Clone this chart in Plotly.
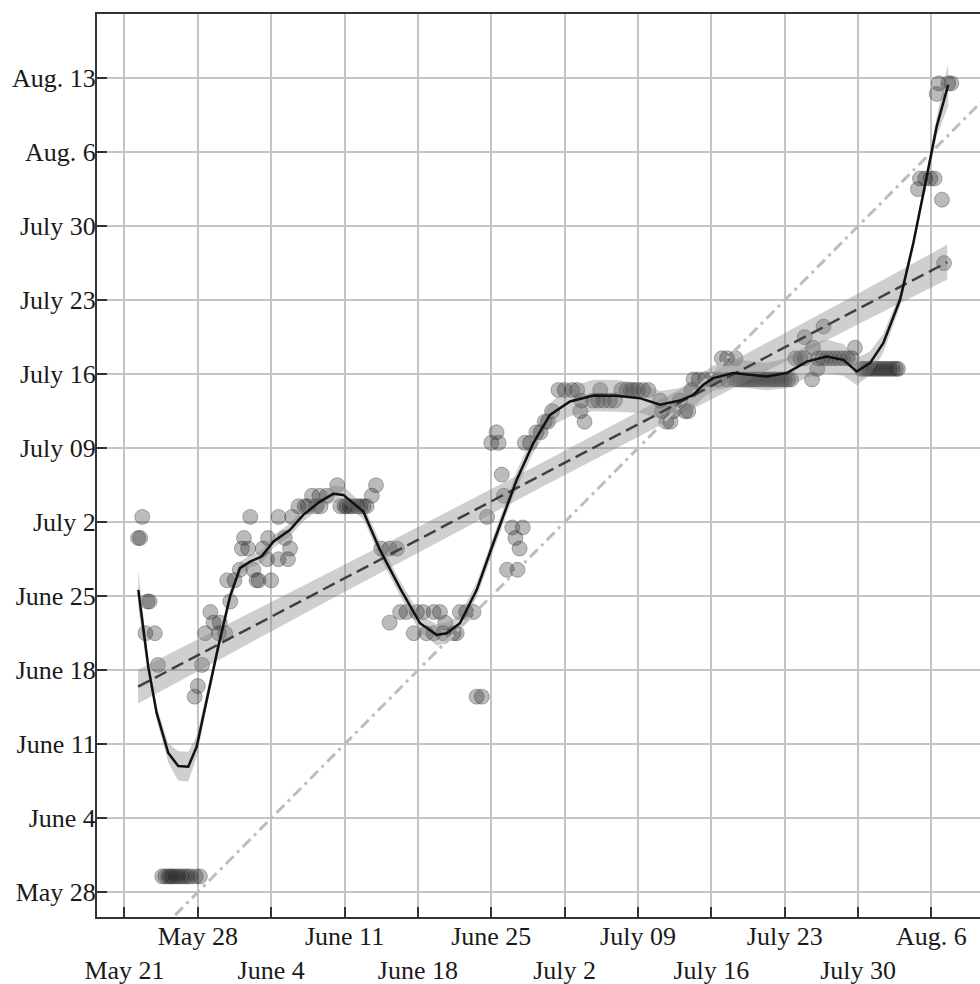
import plotly.graph_objects as go

# ---- axis ticks (days since May 21) ----
x_tick_vals = [0, 7, 14, 21, 28, 35, 42, 49, 56, 63, 70, 77]
x_tick_text = ["May 21", "May 28", "June 4", "June 11", "June 18", "June 25",
               "July 2", "July 09", "July 16", "July 23", "July 30", "Aug. 6"]
y_tick_vals = [7, 14, 21, 28, 35, 42, 49, 56, 63, 70, 77, 84]
y_tick_text = ["May 28", "June 4", "June 11", "June 18", "June 25", "July 2",
               "July 09", "July 16", "July 23", "July 30", "Aug. 6", "Aug. 13"]

# ---- observations ----
pts_x = [1.3, 1.5, 1.7, 2.2, 2.4, 2.0, 2.9, 3.2,
         3.6, 3.9, 4.2, 4.4, 4.6, 4.9, 5.1, 5.4, 5.7, 6.0, 6.3, 6.8, 7.2,
         6.7, 7.0, 7.4, 7.7, 8.2, 8.5, 9.1, 9.0, 9.6, 10.1, 9.8, 10.5, 11.0, 11.4, 12.0,
         11.2, 11.8, 12.3, 12.6, 12.8, 14.0, 13.2, 13.7, 13.6, 14.7, 15.6, 15.3, 15.8,
         14.7, 16.0, 16.6, 17.2, 17.9, 18.6, 18.3,
         17.5, 18.7, 19.3, 20.3, 20.6, 21.0, 21.2, 21.5, 21.8, 22.2, 22.5, 22.8, 23.1, 23.6, 24.0,
         24.5, 25.3, 26.0, 25.3, 26.3, 26.9, 27.9, 28.5, 29.5, 30.1, 27.6, 28.8, 29.5, 30.4,
         31.4, 31.7, 30.6, 32.0, 32.6, 33.3, 33.6, 34.1, 34.6,
         35.5, 35.0, 35.7, 36.0, 36.2, 37.0, 38.0, 37.3, 37.7, 36.5, 37.5, 38.2, 38.7, 39.3,
         39.7, 40.1, 40.4, 40.8, 41.4, 42.0, 42.7, 43.2, 43.5, 43.9, 43.6, 44.7, 45.2, 45.7,
         46.3, 46.8, 45.4, 47.4, 47.9, 48.3, 48.6, 49.0, 49.5, 50.0, 51.3, 51.7, 52.1,
         51.1, 52.4, 53.0, 53.5, 53.8, 54.1, 54.3, 54.8, 55.4, 56.0, 56.7, 57.5, 57.0, 57.5, 58.3,
         58.2, 58.5, 58.8, 59.1, 59.4, 59.7, 60.0, 60.3, 60.6, 60.9, 61.2, 61.5, 61.8, 62.1,
         62.4, 62.7, 63.0, 63.3, 63.6,
         64.0, 64.5, 64.9, 64.9, 65.7, 66.7, 65.6, 66.1,
         66.2, 66.6, 67.0, 67.4, 67.8, 68.2, 68.6, 69.0, 69.4,
         69.7,
         70.3, 70.6, 70.9, 71.2, 71.5, 71.8, 72.1, 72.4, 72.7, 73.0, 73.3, 73.6, 73.8,
         77.7, 78.6, 78.9, 77.5, 75.9, 76.4, 76.9, 77.3, 75.7, 78.0, 78.2]
pts_y = [40.5, 40.5, 42.5, 34.5, 34.5, 31.5, 31.5, 28.5,
         8.5, 8.5, 8.5, 8.5, 8.5, 8.5, 8.5, 8.5, 8.5, 8.5, 8.5, 8.5, 8.5,
         25.5, 26.5, 28.5, 31.5, 33.5, 32.5, 32.5, 31.5, 31.5, 34.5, 36.5, 36.5, 37.5, 40.5, 42.5,
         39.5, 39.5, 37.5, 36.5, 36.5, 36.5, 39.5, 40.5, 38.5, 38.5, 38.5, 40.5, 39.5,
         42.5, 42.5, 43.5, 43.5, 44.5, 44.5, 43.5,
         43.5, 43.5, 44.5, 45.5, 43.5, 43.5, 43.5, 43.5, 43.5, 43.5, 43.5, 43.5, 43.5, 44.5, 45.5,
         39.5, 39.5, 39.5, 32.5, 33.5, 33.5, 33.5, 33.5, 33.5, 33.5, 31.5, 31.5, 31.5, 31.5,
         31.5, 31.5, 32.5, 33.5, 33.5, 33.5, 25.5, 25.5, 42.5,
         50.5, 49.5, 49.5, 46.5, 44.5, 41.5, 41.5, 40.5, 39.5, 37.5, 37.5, 49.5, 49.5, 50.5,
         50.5, 51.5, 51.5, 52.5, 54.5, 54.5, 54.5, 54.5, 52.5, 51.5, 53.5, 53.5, 53.5, 53.5,
         53.5, 53.5, 54.5, 54.5, 54.5, 54.5, 54.5, 54.5, 54.5, 54.5, 52.5, 51.5, 51.5,
         53.5, 52.5, 53.5, 52.5, 52.5, 54.5, 55.5, 55.5, 55.5, 55.5, 55.5, 55.5, 57.5, 57.5, 57.5,
         55.5, 55.5, 55.5, 55.5, 55.5, 55.5, 55.5, 55.5, 55.5, 55.5, 55.5, 55.5, 55.5, 55.5,
         55.5, 55.5, 55.5, 55.5, 55.5,
         57.5, 57.5, 57.5, 59.5, 58.5, 60.5, 55.5, 56.5,
         57.5, 57.5, 57.5, 57.5, 57.5, 57.5, 57.5, 57.5, 57.5,
         58.5,
         56.5, 56.5, 56.5, 56.5, 56.5, 56.5, 56.5, 56.5, 56.5, 56.5, 56.5, 56.5, 56.5,
         83.5, 83.5, 83.5, 82.5, 74.5, 74.5, 74.5, 74.5, 73.5, 72.5, 66.5]

# ---- linear fit and its confidence band ----
lin_x = [1.3, 78.5]
lin_y = [26.45, 66.59]
lin_band_x = [1.3, 10, 20, 30, 40, 50, 60, 70, 78.5]
lin_band_lo = [24.85, 29.52, 34.87, 40.17, 45.42, 50.57, 55.67, 60.72, 64.94]
lin_band_hi = [28.05, 32.42, 37.47, 42.57, 47.72, 52.97, 58.27, 63.62, 68.24]

# ---- loess smooth and its confidence half-width ----
loess_x = [1.32, 2.27, 3.07, 4.18, 5.13, 6.09, 6.89, 7.84, 8.95, 10.07, 11.02, 11.98, 13.09,
           14.2, 15.8, 17.06, 18.65, 19.92, 20.88, 22.79, 24.38, 26.29, 28.2, 29.79, 30.74,
           32.01, 33.61, 35.19, 36.47, 37.42, 39.01, 40.6, 42.51, 44.73, 46.96, 49.18, 51.1,
           53.0, 54.27, 55.23, 56.18, 58.09, 61.28, 63.19, 65.1, 67.0, 68.59, 69.87, 71.13,
           72.4, 74.0, 75.27, 76.55, 77.5, 78.6]
loess_y = [35.6, 28.34, 23.96, 20.17, 18.94, 18.88, 20.77, 25.19, 30.23, 34.96, 37.65, 38.27,
           38.75, 40.16, 41.27, 42.69, 43.95, 44.68, 44.58, 43.0, 39.38, 35.76, 32.44, 31.34,
           31.5, 32.44, 35.6, 40.01, 43.48, 46.0, 49.47, 52.15, 53.41, 53.98, 53.95, 53.73,
           53.1, 53.5, 54.04, 54.99, 55.62, 56.1, 55.77, 56.1, 57.19, 57.67, 57.35, 56.25,
           57.04, 58.93, 63.03, 68.4, 74.7, 79.43, 83.37]
loess_half = [1.8, 0.7, 0.6, 0.9, 1.4, 1.4, 1.0, 0.7, 0.6, 0.6, 0.6, 0.6, 0.6, 0.6, 0.6,
              0.6, 0.7, 0.8, 0.8, 0.7, 0.7, 0.7, 0.8, 1.0, 1.0, 0.8, 0.7, 0.7, 0.7, 0.8,
              0.9, 1.1, 1.4, 1.5, 1.5, 1.4, 1.3, 1.2, 1.2, 1.2, 1.2, 1.3, 1.3, 1.4, 1.5,
              1.6, 1.5, 1.3, 1.1, 0.9, 0.6, 0.5, 0.6, 0.9, 2.0]

# ---- 1:1 reference line ----
ref_x = [0, 90]
ref_y = [0, 90]

FONT = "Liberation Serif, Times New Roman, serif"
loess_lo = [y - h for y, h in zip(loess_y, loess_half)]
loess_hi = [y + h for y, h in zip(loess_y, loess_half)]

fig = go.Figure()

fig.add_trace(go.Scatter(
    x=pts_x, y=pts_y, mode="markers", hoverinfo="skip",
    marker=dict(size=15, color="rgba(30,30,30,0.3)",
                line=dict(width=1, color="rgba(30,30,30,0.3)"))))

fig.add_trace(go.Scatter(x=lin_band_x + lin_band_x[::-1], y=lin_band_hi + lin_band_lo[::-1],
                         fill="toself", fillcolor="rgba(130,130,130,0.38)",
                         line=dict(width=0), mode="lines", hoverinfo="skip"))
fig.add_trace(go.Scatter(x=loess_x + loess_x[::-1], y=loess_hi + loess_lo[::-1],
                         fill="toself", fillcolor="rgba(130,130,130,0.38)",
                         line=dict(width=0), mode="lines", hoverinfo="skip"))

fig.add_trace(go.Scatter(x=ref_x, y=ref_y, mode="lines", hoverinfo="skip",
                         line=dict(color="#bdbdbd", width=3, dash="11px,5px,3px,5px")))
fig.add_trace(go.Scatter(x=lin_x, y=lin_y, mode="lines", hoverinfo="skip",
                         line=dict(color="#404040", width=2.5, dash="13px,6px")))
fig.add_trace(go.Scatter(x=loess_x, y=loess_y, mode="lines", hoverinfo="skip",
                         line=dict(color="#111111", width=2.5)))

x_text = [t if i % 2 == 1 else "<br>" + t for i, t in enumerate(x_tick_text)]

fig.update_layout(
    width=980, height=984,
    margin=dict(l=97, r=0, t=14, b=67),
    paper_bgcolor="white", plot_bgcolor="white",
    showlegend=False,
    font=dict(family=FONT, size=26, color="#1a1a1a"),
)
fig.update_xaxes(
    range=[-2.62, 81.63], tickmode="array", tickvals=x_tick_vals, ticktext=x_text,
    ticks="inside", ticklen=10, tickwidth=2, tickcolor="#333333",
    showline=True, linecolor="#333333", linewidth=2, mirror=True,
    showgrid=True, gridcolor="#c4c4c4", gridwidth=2, zeroline=False,
    tickangle=0, ticklabelstandoff=-5, automargin=False,
)
fig.update_yaxes(
    range=[4.66, 90.06], tickmode="array", tickvals=y_tick_vals, ticktext=y_tick_text,
    ticks="inside", ticklen=10, tickwidth=2, tickcolor="#333333",
    showline=True, linecolor="#333333", linewidth=2,
    showgrid=True, gridcolor="#c4c4c4", gridwidth=2, zeroline=False,
    ticklabelstandoff=-6, automargin=False,
)

fig.write_html("out.html", config={"displayModeBar": False},
               post_script="document.body.style.margin='0';")
